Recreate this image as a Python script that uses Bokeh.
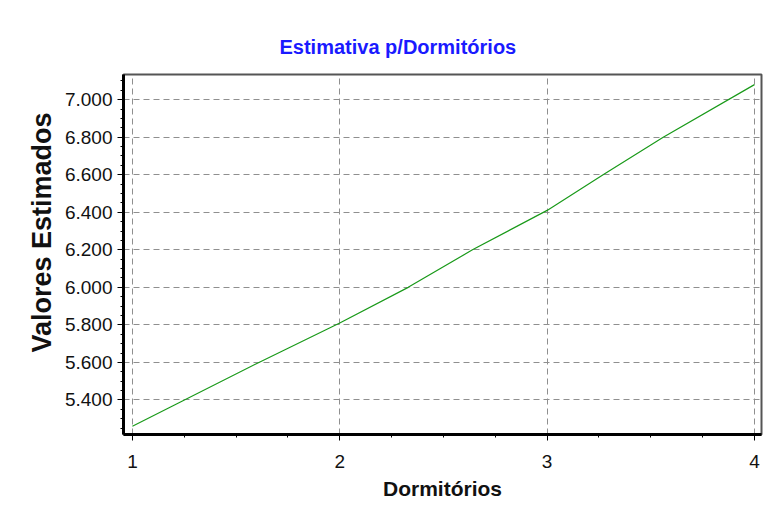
from bokeh.plotting import figure
from bokeh.models import Range1d, NumeralTickFormatter, FixedTicker, Title
from bokeh.embed import file_html
from bokeh.resources import INLINE

# Data
dormitorios = [1, 1.61, 2, 2.33, 2.64, 3, 3.27, 3.56, 4]
valores = [5.26, 5.60, 5.81, 6.00, 6.20, 6.41, 6.60, 6.80, 7.08]
x_ticks = [1, 2, 3, 4]
y_ticks = [5.4, 5.6, 5.8, 6.0, 6.2, 6.4, 6.6, 6.8, 7.0]

FONT = "'Liberation Sans', Arial, sans-serif"

p = figure(
    frame_width=638, frame_height=360,
    min_border_left=123, min_border_top=74, min_border_right=4, min_border_bottom=72,
    x_range=Range1d(0.957, 4.034), y_range=Range1d(5.216, 7.134),
    output_backend="svg", toolbar_location=None,
    background_fill_color="white", border_fill_color="white",
)

p.title.text = "Estimativa p/Dormitórios"
p.title.align = "left"
p.title.offset = 156
p.title.standoff = 32
p.title.vertical_align = "middle"
p.title.text_color = "#1a1aff"
p.title.text_font = FONT
p.title.text_font_size = "20px"
p.title.text_font_style = "bold"

p.line(dormitorios, valores, line_color="#1a9a1a", line_width=1.2)

p.outline_line_color = "#555555"
p.outline_line_width = 2

for ax in (p.xaxis[0], p.yaxis[0]):
    ax.axis_line_color = "black"
    ax.axis_line_width = 3
    ax.major_tick_line_color = "black"
    ax.minor_tick_line_color = "black"
    ax.major_tick_out = 6
    ax.major_tick_in = 0
    ax.minor_tick_out = 3
    ax.minor_tick_in = 0
    ax.major_label_text_font = FONT
    ax.major_label_text_font_size = "19px"
    ax.major_label_text_color = "#111111"

p.xaxis.ticker = FixedTicker(ticks=x_ticks, minor_ticks=[1 + 0.25 * i for i in range(13)])
p.yaxis.ticker = FixedTicker(ticks=y_ticks, minor_ticks=[round(5.2 + 0.05 * i, 2) for i in range(40)])
p.yaxis.formatter = NumeralTickFormatter(format="0.000")
p.xaxis.major_label_standoff = 14
p.yaxis.major_label_standoff = 5

p.xaxis.axis_label = "Dormitórios"
p.xaxis.axis_label_text_font = FONT
p.xaxis.axis_label_text_font_size = "21px"
p.xaxis.axis_label_text_font_style = "bold"
p.xaxis.axis_label_text_color = "#111111"
p.xaxis.axis_label_standoff = 6

ylab = Title(text="Valores Estimados", align="left", offset=82, standoff=9,
             text_font=FONT, text_font_size="27px", text_font_style="bold",
             text_color="#111111")
p.add_layout(ylab, "left")

p.xgrid.grid_line_color = "#8f8f8f"
p.xgrid.grid_line_dash = "6 4"
p.xgrid.grid_line_width = 1
p.ygrid.grid_line_color = "#8f8f8f"
p.ygrid.grid_line_dash = "6 4"
p.ygrid.grid_line_width = 1

open("out.html", "w").write(file_html(p, INLINE))
